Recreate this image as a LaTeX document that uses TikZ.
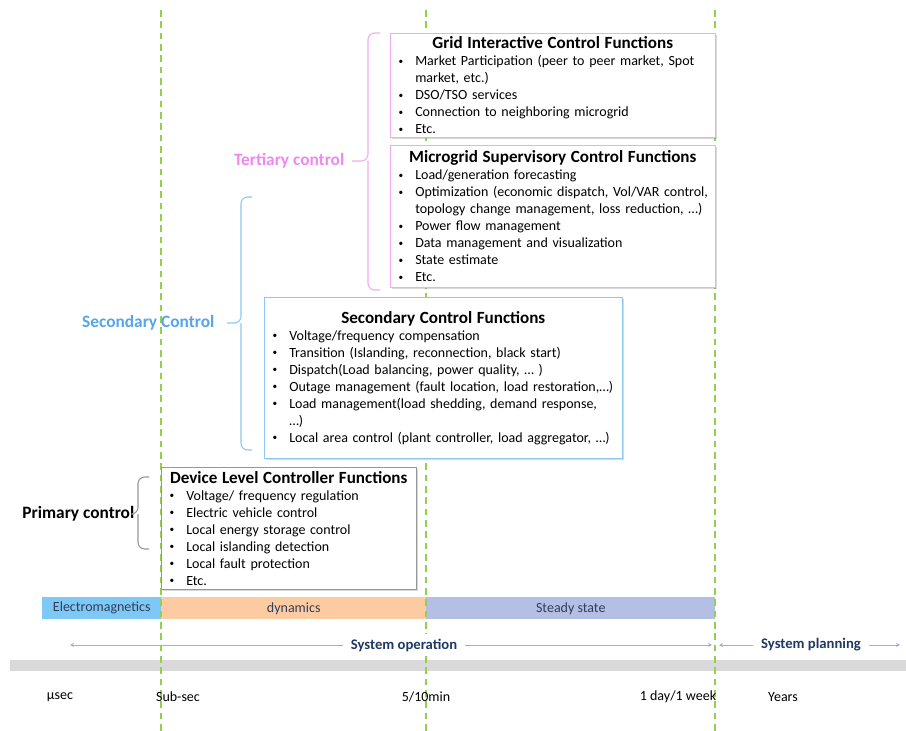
\documentclass[tikz,border=0pt]{standalone}
\usepackage{fontspec}
\setmainfont{Carlito}
\usetikzlibrary{positioning,shadows,arrows.meta}

\definecolor{tertc}{RGB}{240,135,240}
\definecolor{tertline}{RGB}{240,170,240}
\definecolor{secc}{RGB}{85,165,232}
\definecolor{secline}{RGB}{140,200,240}
\definecolor{primline}{RGB}{150,150,150}
\definecolor{gridgreen}{RGB}{146,208,80}
\definecolor{emc}{RGB}{125,200,245}
\definecolor{dync}{RGB}{252,203,162}
\definecolor{stc}{RGB}{180,191,230}
\definecolor{opc}{RGB}{32,56,100}
\definecolor{barc}{RGB}{50,62,90}
\definecolor{opline}{RGB}{160,176,216}

\newenvironment{fnlist}{\begin{list}{\raisebox{1pt}{\fontsize{7}{7}\selectfont\textbullet}}{%
  \setlength{\leftmargin}{15.75pt}\setlength{\labelsep}{9pt}%
  \setlength{\labelwidth}{6.75pt}\setlength{\itemsep}{0pt}%
  \setlength{\parsep}{0pt}\setlength{\topsep}{0pt}\setlength{\partopsep}{0pt}}}%
  {\end{list}}
\newcommand{\fntitle}[1]{{\centering\bfseries\fontsize{12.8}{15}\selectfont #1\par}}

\tikzset{
  fnbox/.style={draw, fill=white, anchor=north west, align=left, inner xsep=3pt, inner ysep=1pt,
    font=\fontsize{10.5}{12.75}\selectfont,
    drop shadow={opacity=0.3, shadow xshift=1.2pt, shadow yshift=-1.2pt}},
  ctrllabel/.style={anchor=east, font=\bfseries\fontsize{13}{15}\selectfont},
  bracepath/.style={line width=0.8pt, rounded corners=5pt},
  bar/.style={anchor=north west, inner sep=0pt, minimum height=16.5pt, text=barc,
    font=\fontsize{10.5}{12}\selectfont},
  span/.style={text=opc, fill=white, font=\bfseries\fontsize{11}{13}\selectfont, inner xsep=6pt},
  spanarrow/.style={opline, line width=0.6pt, -{Stealth[length=3pt,width=3pt]}},
  tick/.style={font=\fontsize{10.5}{12}\selectfont}
}

\begin{document}
\begin{tikzpicture}[x=0.75pt, y=-0.75pt]
\useasboundingbox (0,0) rectangle (906,731);

\node[bar, fill=emc, minimum width=89.25pt] (em) at (42,597) {Electromagnetics};
\node[bar, fill=dync, minimum width=198.75pt] (dyn) at (161,597) {dynamics};
\node[bar, fill=stc, minimum width=216.75pt] (steady) at (426,597) {Steady state};

\fill[gray!30] (10,660) rectangle (906,671);

\foreach \x in {161,426,715}
  \draw[gridgreen, line width=1.1pt, dash pattern=on 5pt off 3.5pt] (\x,10) -- (\x,731);

\coordinate (opL) at (70,645);
\coordinate (opR) at (712,645);
\node[span] (op) at (404,645) {System operation};
\draw[spanarrow] (op) -- (opL);
\draw[spanarrow] (op) -- (opR);

\coordinate (plL) at (719,645);
\coordinate (plR) at (900,645);
\node[span] (pl) at (811,645) {System planning};
\draw[spanarrow] (pl) -- (plL);
\draw[spanarrow] (pl) -- (plR);

\node[tick] (t1) at (60,697) {µsec};
\node[tick] (t2) at (178,697) {Sub-sec};
\node[tick] (t3) at (426,697) {5/10min};
\node[tick] (t4) at (678,697) {1 day/1 week};
\node[tick] (t5) at (783,697) {Years};

\node[fnbox, draw=tertline, text width=237.75pt, minimum height=78pt] (grid) at (390,33) {%
  \fntitle{Grid Interactive Control Functions}
  \begin{fnlist}
  \item Market Participation (peer to peer market, Spot\newline market, etc.)
  \item DSO/TSO services
  \item Connection to neighboring microgrid
  \item Etc.
  \end{fnlist}};

\node[fnbox, draw=tertline, text width=237.75pt, minimum height=106.5pt] (micro) at (390,145) {%
  \fntitle{Microgrid Supervisory Control Functions}
  \begin{fnlist}
  \item Load/generation forecasting
  \item Optimization (economic dispatch, Vol/VAR control,\newline topology change management, loss reduction, …)
  \item Power flow management
  \item Data management and visualization
  \item State estimate
  \item Etc.
  \end{fnlist}};

\node[fnbox, draw=secline, text width=262.5pt, minimum height=120.75pt] (sec) at (264,297) {%
  \fntitle{Secondary Control Functions}
  \begin{fnlist}
  \item Voltage/frequency compensation
  \item Transition (Islanding, reconnection, black start)
  \item Dispatch(Load balancing, power quality, … )
  \item Outage management (fault location, load restoration,…)
  \item Load management(load shedding, demand response,\newline …)
  \item Local area control (plant controller, load aggregator, …)
  \end{fnlist}};

\node[fnbox, draw=primline, text width=185.25pt, minimum height=91.5pt] (dev) at (161,467) {%
  \fntitle{Device Level Controller Functions}
  \begin{fnlist}
  \item Voltage/ frequency regulation
  \item Electric vehicle control
  \item Local energy storage control
  \item Local islanding detection
  \item Local fault protection
  \item Etc.
  \end{fnlist}};

\coordinate (tertip) at (352,161);
\node[ctrllabel, text=tertc] (tert) at (349,161) {Tertiary control};
\draw[tertline, bracepath] (tertip) -- (368,161) |- (380,33) (368,161) |- (380,290);

\coordinate (sectip) at (227,323);
\node[ctrllabel, text=secc] (secl) at (219,323) {Secondary Control};
\draw[secline, bracepath] (sectip) -- (241,323) |- (252,197) (241,323) |- (252,450);

\coordinate (primtip) at (134,514);
\node[ctrllabel] (prim) at (139,514) {Primary control};
\draw[primline, bracepath] (primtip) -- (138,514) |- (149,477) (138,514) |- (149,549);
\end{tikzpicture}
\end{document}
